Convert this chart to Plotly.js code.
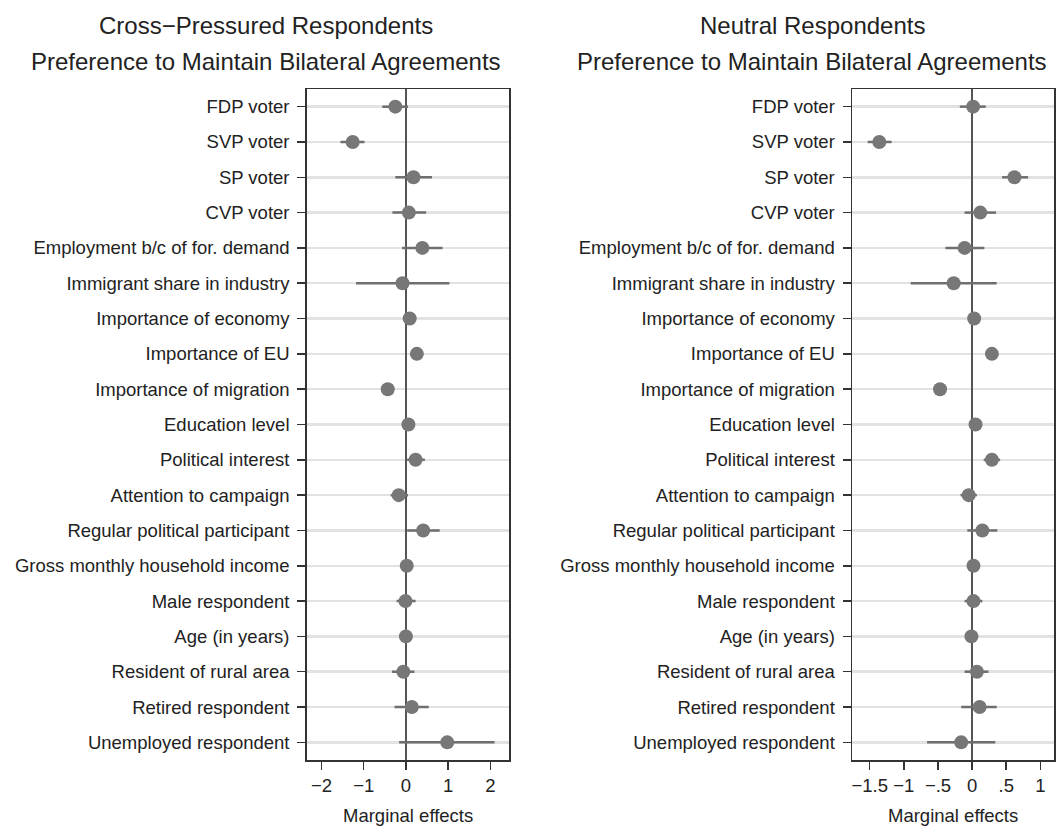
<!DOCTYPE html>
<html>
<head>
<meta charset="utf-8">
<script src="https://cdn.plot.ly/plotly-3.0.1.min.js"></script>
<style>html,body{margin:0;padding:0;background:#fff;}</style>
</head>
<body>
<div id="chart" style="width:1060px;height:827px;"></div>
<script>
// Variable labels (top to bottom)
const variables = [
  "FDP voter", "SVP voter", "SP voter", "CVP voter",
  "Employment b/c of for. demand", "Immigrant share in industry",
  "Importance of economy", "Importance of EU", "Importance of migration",
  "Education level", "Political interest", "Attention to campaign",
  "Regular political participant", "Gross monthly household income",
  "Male respondent", "Age (in years)", "Resident of rural area",
  "Retired respondent", "Unemployed respondent"
];

// Cross-pressured respondents: estimate, lower and upper CI
const crossEst = [-0.25, -1.26, 0.18, 0.07, 0.39, -0.08, 0.09, 0.26, -0.43, 0.06, 0.23, -0.17, 0.41, 0.02, -0.01, 0.00, -0.06, 0.14, 0.98];
const crossLo  = [-0.56, -1.55, -0.25, -0.32, -0.09, -1.18, 0.02, 0.18, -0.50, 0.00, 0.03, -0.36, 0.03, -0.03, -0.22, -0.04, -0.33, -0.27, -0.16];
const crossHi  = [ 0.05, -0.98, 0.62, 0.48, 0.87, 1.03, 0.16, 0.34, -0.36, 0.12, 0.45, 0.05, 0.80, 0.07, 0.23, 0.04, 0.20, 0.54, 2.10];

// Neutral respondents: estimate, lower and upper CI
const neutEst = [0.015, -1.36, 0.62, 0.12, -0.11, -0.27, 0.03, 0.29, -0.47, 0.05, 0.29, -0.05, 0.15, 0.02, 0.02, -0.01, 0.07, 0.11, -0.16];
const neutLo  = [-0.18, -1.53, 0.44, -0.11, -0.39, -0.90, -0.01, 0.25, -0.52, 0.01, 0.17, -0.17, -0.07, -0.02, -0.11, -0.05, -0.11, -0.16, -0.66];
const neutHi  = [ 0.20, -1.18, 0.82, 0.35, 0.18, 0.36, 0.07, 0.33, -0.42, 0.09, 0.41, 0.07, 0.37, 0.06, 0.15, 0.03, 0.24, 0.36, 0.34];

// Axis ticks
const crossTicks = [-2, -1, 0, 1, 2];
const crossTickText = ["\u22122", "\u22121", "0", "1", "2"];
const neutTicks = [-1.5, -1, -0.5, 0, 0.5, 1];
const neutTickText = ["\u22121.5", "\u22121", "\u2212.5", "0", ".5", "1"];

const titleLeft = ["Cross\u2212Pressured Respondents", "Preference to Maintain Bilateral Agreements"];
const titleRight = ["Neutral Respondents", "Preference to Maintain Bilateral Agreements"];
const xTitle = "Marginal effects";

const FONT = "Liberation Sans, Arial, Helvetica, sans-serif";
const PT = "#777777";
const CI = "#6f6f6f";

function trace(est, lo, hi, xa, ya) {
  return {
    type: "scatter", mode: "markers",
    x: est, y: variables, xaxis: xa, yaxis: ya,
    marker: {color: PT, size: 14, line: {width: 0}},
    error_x: {
      type: "data", symmetric: false,
      array: hi.map((h, i) => h - est[i]),
      arrayminus: lo.map((l, i) => est[i] - l),
      color: CI, thickness: 2.5, width: 0
    },
    hoverinfo: "x+y", showlegend: false, cliponaxis: false
  };
}

const yBase = {
  type: "category", categoryorder: "array", categoryarray: variables,
  range: [18.5, -0.5], domain: [1 - 760/827, 1 - 89/827],
  showgrid: true, gridcolor: "#e2e2e2", gridwidth: 2.5,
  showline: true, linecolor: "#333", linewidth: 1.5, mirror: true,
  ticks: "outside", ticklen: 8, tickwidth: 1.5, tickcolor: "#333",
  tickfont: {family: FONT, size: 18.5, color: "#222"},
  ticklabelstandoff: 4, zeroline: false, fixedrange: true
};

function xBase(range, tv, tt, dom, anchor) {
  return {
    range: range, domain: dom, anchor: anchor,
    tickvals: tv, ticktext: tt,
    showgrid: false,
    zeroline: true, zerolinecolor: "#555", zerolinewidth: 2,
    showline: true, linecolor: "#333", linewidth: 1.5, mirror: true,
    ticks: "outside", ticklen: 8, tickwidth: 1.5, tickcolor: "#333",
    tickfont: {family: FONT, size: 18.5, color: "#222"},
    fixedrange: true
  };
}

const layout = {
  width: 1060, height: 827,
  margin: {l: 0, r: 0, t: 0, b: 0},
  paper_bgcolor: "#fff", plot_bgcolor: "#fff",
  font: {family: FONT, color: "#222"},
  xaxis: xBase([-2.35, 2.45], crossTicks, crossTickText, [306.7/1060, 509.3/1060], "y"),
  yaxis: Object.assign({}, yBase, {anchor: "x"}),
  xaxis2: xBase([-1.76, 1.2], neutTicks, neutTickText, [852/1060, 1054/1060], "y2"),
  yaxis2: Object.assign({}, yBase, {anchor: "x2"}),
  annotations: [
    {text: titleLeft[0], x: 266/1060, y: 1 - 25/827},
    {text: titleLeft[1], x: 266/1060, y: 1 - 61.5/827},
    {text: titleRight[0], x: 812/1060, y: 1 - 25/827},
    {text: titleRight[1], x: 812/1060, y: 1 - 61.5/827},
    {text: xTitle, x: 408/1060, y: 1 - 815/827, size: 18.5},
    {text: xTitle, x: 953/1060, y: 1 - 815/827, size: 18.5}
  ].map(a => ({
    text: a.text, x: a.x, y: a.y, xref: "paper", yref: "paper",
    xanchor: "center", yanchor: "middle", showarrow: false,
    font: {family: FONT, size: a.size || 24, color: "#222"}
  }))
};

Plotly.newPlot("chart", [
  trace(crossEst, crossLo, crossHi, "x", "y"),
  trace(neutEst, neutLo, neutHi, "x2", "y2")
], layout, {staticPlot: true, displayModeBar: false});
</script>
</body>
</html>
